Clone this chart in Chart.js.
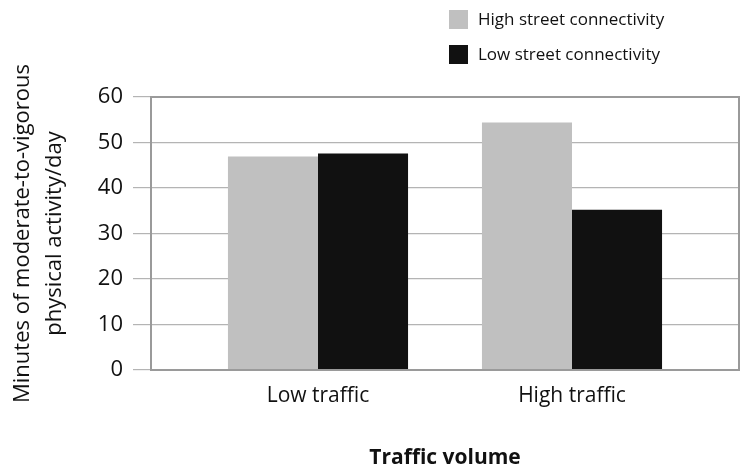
<!DOCTYPE html>
<html>
<head>
<meta charset="utf-8">
<script src="https://cdn.jsdelivr.net/npm/chart.js@4.4.1/dist/chart.umd.min.js"></script>
<style>
  html, body { margin: 0; padding: 0; background: #fff; }
  #wrap { width: 751px; height: 474px; }
</style>
</head>
<body>
<div id="wrap"><canvas id="chart" width="751" height="474"></canvas></div>
<script>
// data
const categories = ['Low traffic', 'High traffic']
const highConnectivity = [46.9, 54.4]
const lowConnectivity = [47.6, 35.2]
const yTicks = [0, 10, 20, 30, 40, 50, 60]

const seriesNames = ['High street connectivity', 'Low street connectivity']
const colors = {
  light: '#c0c0c0',
  dark: '#111111',
  grid: '#b4b4b4',
  frame: '#9a9a9a',
  text: '#111111'
}
const family = "'Open Sans', 'Noto Sans', sans-serif"

// categories sit at x = 1, 2 on a linear axis so the side gaps match the reference
const toPoints = values => values.map((v, i) => ({ x: i + 1, y: v }))

const frame = {
  id: 'frame',
  afterDatasetsDraw(chart) {
    const { ctx, chartArea: a } = chart
    ctx.save()
    ctx.strokeStyle = colors.frame
    ctx.lineWidth = 2
    ctx.strokeRect(a.left, a.top, a.right - a.left, a.bottom - a.top)
    ctx.restore()
  }
}

// stacked legend in the top right corner
const stackedLegend = {
  id: 'stackedLegend',
  afterDraw(chart) {
    const { ctx } = chart
    ctx.save()
    ctx.font = `17px ${family}`
    ctx.textBaseline = 'middle'
    chart.data.datasets.forEach((ds, i) => {
      const y = 10 + i * 35
      ctx.fillStyle = ds.backgroundColor
      ctx.fillRect(449, y, 19, 19)
      ctx.fillStyle = colors.text
      ctx.fillText(ds.label, 478, y + 10)
    })
    ctx.restore()
  }
}

new Chart(document.getElementById('chart'), {
  type: 'bar',
  data: {
    datasets: [{
      label: seriesNames[0],
      data: toPoints(highConnectivity),
      backgroundColor: colors.light
    }, {
      label: seriesNames[1],
      data: toPoints(lowConnectivity),
      backgroundColor: colors.dark
    }]
  },
  options: {
    responsive: false,
    animation: false,
    categoryPercentage: 0.709,
    barPercentage: 1,
    layout: { padding: { top: 97, right: 12, left: 0, bottom: 0 } },
    plugins: {
      legend: { display: false },
      tooltip: { enabled: false }
    },
    scales: {
      x: {
        type: 'linear',
        offset: false,
        min: 1 - 167 / 254,
        max: 2 + 167 / 254,
        afterBuildTicks: scale => { scale.ticks = categories.map((c, i) => ({ value: i + 1 })) },
        afterFit: scale => { scale.height = 104 },
        grid: { display: false, drawTicks: false },
        border: { display: false },
        ticks: {
          padding: 13,
          color: colors.text,
          font: { family, size: 21 },
          callback: v => categories[v - 1] || ''
        },
        title: {
          display: true,
          text: 'Traffic volume',
          color: colors.text,
          font: { family, size: 21, weight: 'bold' },
          padding: { top: 0, bottom: 3 }
        }
      },
      y: {
        min: 0,
        max: 60,
        afterBuildTicks: scale => { scale.ticks = yTicks.map(v => ({ value: v })) },
        afterFit: scale => { scale.width = 151 },
        grid: { color: colors.grid, lineWidth: 1.2, tickLength: 18 },
        border: { display: false },
        ticks: {
          padding: 10,
          color: colors.text,
          font: { family, size: 22 }
        },
        title: {
          display: true,
          text: ['Minutes of moderate-to-vigorous', 'physical activity/day'],
          color: colors.text,
          font: { family, size: 22, lineHeight: 1.45 },
          padding: { top: 7, bottom: 0 }
        }
      }
    }
  },
  plugins: [frame, stackedLegend]
})
</script>
</body>
</html>
